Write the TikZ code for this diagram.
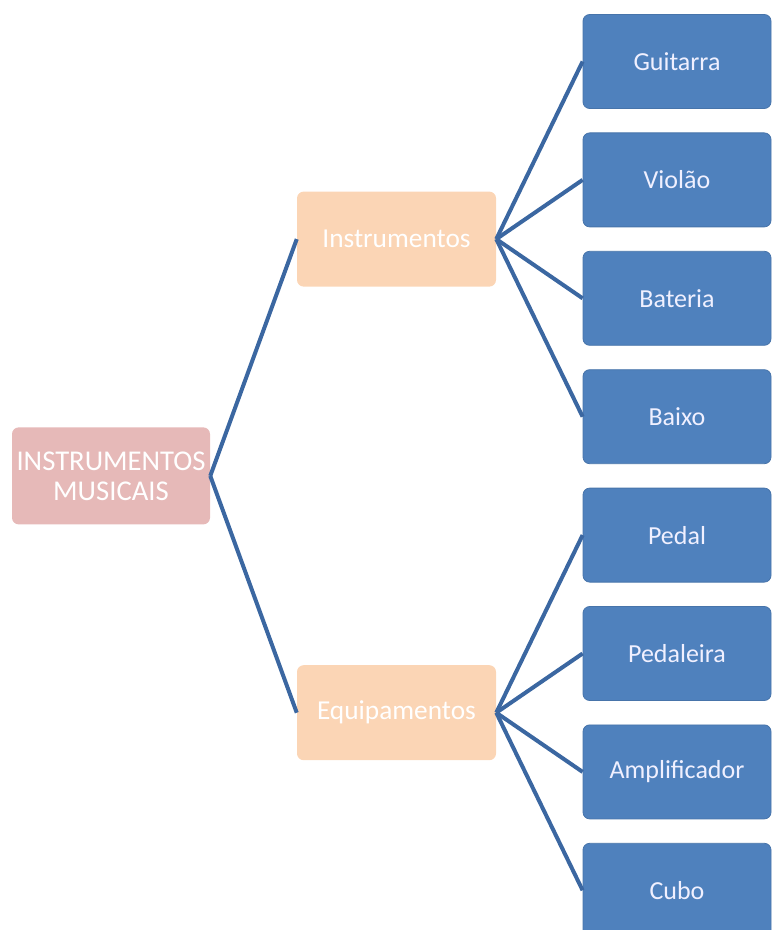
\documentclass[tikz,border=0pt]{standalone}
\usepackage{xcolor}
\usepackage{fontspec}
\setmainfont{Carlito}
\usepackage{tikz}
\usetikzlibrary{positioning,calc}

\definecolor{rootpink}{HTML}{E6B9B8}
\definecolor{grouppeach}{HTML}{FBD5B5}
\definecolor{itemblue}{HTML}{4F81BD}
\definecolor{linkblue}{HTML}{3B67A1}

\begin{document}
\begin{tikzpicture}[x=0.75pt,y=-0.75pt,
  box/.style={rounded corners=5pt,align=center,inner sep=0pt,
    font=\fontsize{19.5}{22.5}\selectfont},
  root/.style={box,fill=rootpink,text=white,minimum width=148.5pt,minimum height=72.75pt,
    font=\fontsize{21.5}{22.5}\selectfont},
  group/.style={box,fill=grouppeach,text=white,minimum width=149.25pt,minimum height=71.25pt,
    font=\fontsize{20.5}{22.5}\selectfont},
  item/.style={box,fill=itemblue,draw=itemblue!90!black,line width=0.6pt,text=blue!6,
    minimum width=141pt,minimum height=70.5pt},
  link/.style={draw=linkblue,line width=3pt}]
\useasboundingbox (0,0) rectangle (773,930);
% leaves, stacked top to bottom
\node[item] (guitarra) at (677,61.5) {Guitarra};
\node[item,below=17.7pt of guitarra] (violao) {Violão};
\node[item,below=17.7pt of violao] (bateria) {Bateria};
\node[item,below=17.7pt of bateria] (baixo) {Baixo};
\node[item,below=17.7pt of baixo] (pedal) {Pedal};
\node[item,below=17.7pt of pedal] (pedaleira) {Pedaleira};
\node[item,below=17.7pt of pedaleira] (amplificador) {Amplificador};
\node[item,below=17.7pt of amplificador] (cubo) {Cubo};
% groups sit halfway along their leaves
\node[group] (instr) at ($(violao)!0.5!(bateria)+(-280.5,0)$) {Instrumentos};
\node[group] (equip) at ($(pedaleira)!0.5!(amplificador)+(-280.5,0)$) {Equipamentos};
\node[root] (musicais) at ($(instr)!0.5!(equip)+(-285.5,0)$) {INSTRUMENTOS\\MUSICAIS};
\draw[link] (musicais.east) -- (instr.west);
\draw[link] (musicais.east) -- (equip.west);
\draw[link] (instr.east) -- (guitarra.west);
\draw[link] (instr.east) -- (violao.west);
\draw[link] (instr.east) -- (bateria.west);
\draw[link] (instr.east) -- (baixo.west);
\draw[link] (equip.east) -- (pedal.west);
\draw[link] (equip.east) -- (pedaleira.west);
\draw[link] (equip.east) -- (amplificador.west);
\draw[link] (equip.east) -- (cubo.west);
\end{tikzpicture}
\end{document}
